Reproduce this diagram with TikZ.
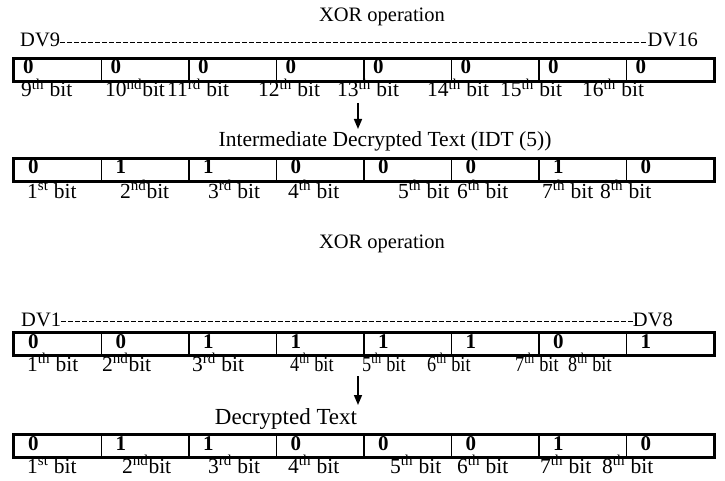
\documentclass[tikz,border=0pt]{standalone}
\usepackage{graphicx}
\usepackage{fontspec}
\setmainfont{Liberation Serif}
\usetikzlibrary{arrows.meta}
\newcommand{\sups}[1]{\textsuperscript{#1}}
\newcommand{\narrowlbl}[1]{\scalebox{0.85}[1]{#1}}
\begin{document}
\begin{tikzpicture}[x=1pt,y=-1pt,
  txt/.style={inner sep=0pt, anchor=base, font=\fontsize{20.5}{24}\selectfont},
  lefttxt/.style={txt, anchor=base west},
  righttxt/.style={txt, anchor=base east},
  digit/.style={inner sep=0pt, anchor=base west, font=\fontsize{21}{24}\selectfont\bfseries},
  bitlbl/.style={inner sep=0pt, anchor=base west, font=\fontsize{21.5}{24}\selectfont},
  cell/.style={draw, line width=1.6pt, minimum width=87.5pt, minimum height=22pt,
    inner sep=0pt, anchor=north west},
  frame/.style={draw, line width=2.6pt},
  dvline/.style={line width=0.9pt, dash pattern=on 5pt off 2pt},
  arr/.style={line width=1.6pt, -{Triangle[length=10pt,width=8pt]}}]
\useasboundingbox (0,0) rectangle (725,481);

% ---------- upper block: DV9 .. DV16 ----------
\node[txt] (xor1) at (382,22) {XOR operation};
\node[lefttxt] (dv9) at (20,47) {DV9};
\node[righttxt] (dv16) at (698,47) {DV16};
\draw[dvline] (dv9.east |- 0,42) -- (dv16.west |- 0,42);

\foreach \i in {0,...,7}
  \node[cell] (c1\i) at ({13+87.5*\i},58) {};
\draw[frame] (c10.north west) rectangle (c17.south east);
\foreach \d [count=\i from 0] in {0,0,0,0,0,0,0,0}
  \node[digit] (d1\i) at ({13+87.5*\i+10},74) {\d};
\foreach \x/\t [count=\i] in {21/{9\sups{th} bit}, 105/{10\sups{nd}bit},
    167/{11\sups{rd} bit}, 258/{12\sups{th} bit}, 337/{13\sups{th} bit},
    427/{14\sups{th} bit}, 500/{15\sups{th} bit}, 582/{16\sups{th} bit}}
  \node[bitlbl] (l1\i) at (\x,97) {\t};

\coordinate (a1s) at (358,103);
\coordinate (a1e) at (358,129);
\draw[arr] (a1s) -- (a1e);

% ---------- intermediate decrypted text ----------
\node[txt, font=\fontsize{21.5}{24}\selectfont] (idt) at (385,147)
  {Intermediate Decrypted Text (IDT (5))};
\foreach \i in {0,...,7}
  \node[cell] (c2\i) at ({13+87.5*\i},158) {};
\draw[frame] (c20.north west) rectangle (c27.south east);
\foreach \d [count=\i from 0] in {0,1,1,0,0,0,1,0}
  \node[digit] (d2\i) at ({13+87.5*\i+15},174) {\d};
\foreach \x/\t [count=\i] in {27/{1\sups{st} bit}, 120/{2\sups{nd}bit},
    208/{3\sups{rd} bit}, 288/{4\sups{th} bit}, 398/{5\sups{th} bit},
    457/{6\sups{th} bit}, 542/{7\sups{th} bit}, 600/{8\sups{th} bit}}
  \node[bitlbl] (l2\i) at (\x,198) {\t};

% ---------- lower block: DV1 .. DV8 ----------
\node[txt] (xor2) at (382,248) {XOR operation};
\node[lefttxt] (dv1) at (21,326) {DV1};
\node[righttxt] (dv8) at (673,326) {DV8};
\draw[dvline] (dv1.east |- 0,321) -- (dv8.west |- 0,321);

\foreach \i in {0,...,7}
  \node[cell] (c3\i) at ({13+87.5*\i},332) {};
\draw[frame] (c30.north west) rectangle (c37.south east);
\foreach \d [count=\i from 0] in {0,0,1,1,1,1,0,1}
  \node[digit] (d3\i) at ({13+87.5*\i+15},348) {\d};
\foreach \x/\t [count=\i] in {27/{1\sups{th} bit}, 102/{2\sups{nd}bit},
    192/{3\sups{rd} bit}, 290/{\narrowlbl{4\sups{th} bit}},
    362/{\narrowlbl{5\sups{th} bit}}, 427/{\narrowlbl{6\sups{th} bit}},
    515/{\narrowlbl{7\sups{th} bit}}, 568/{\narrowlbl{8\sups{th} bit}}}
  \node[bitlbl] (l3\i) at (\x,371) {\t};

\coordinate (a2s) at (358,376);
\coordinate (a2e) at (358,405);
\draw[arr] (a2s) -- (a2e);

% ---------- decrypted text ----------
\node[txt, font=\fontsize{23}{24}\selectfont] (dec) at (286,424) {Decrypted Text};
\foreach \i in {0,...,7}
  \node[cell] (c4\i) at ({13+87.5*\i},434) {};
\draw[frame] (c40.north west) rectangle (c47.south east);
\foreach \d [count=\i from 0] in {0,1,1,0,0,0,1,0}
  \node[digit] (d4\i) at ({13+87.5*\i+15},450) {\d};
\foreach \x/\t [count=\i] in {27/{1\sups{st} bit}, 122/{2\sups{nd}bit},
    208/{3\sups{rd} bit}, 288/{4\sups{th} bit}, 390/{5\sups{th} bit},
    457/{6\sups{th} bit}, 540/{7\sups{th} bit}, 602/{8\sups{th} bit}}
  \node[bitlbl] (l4\i) at (\x,473) {\t};
\end{tikzpicture}
\end{document}
